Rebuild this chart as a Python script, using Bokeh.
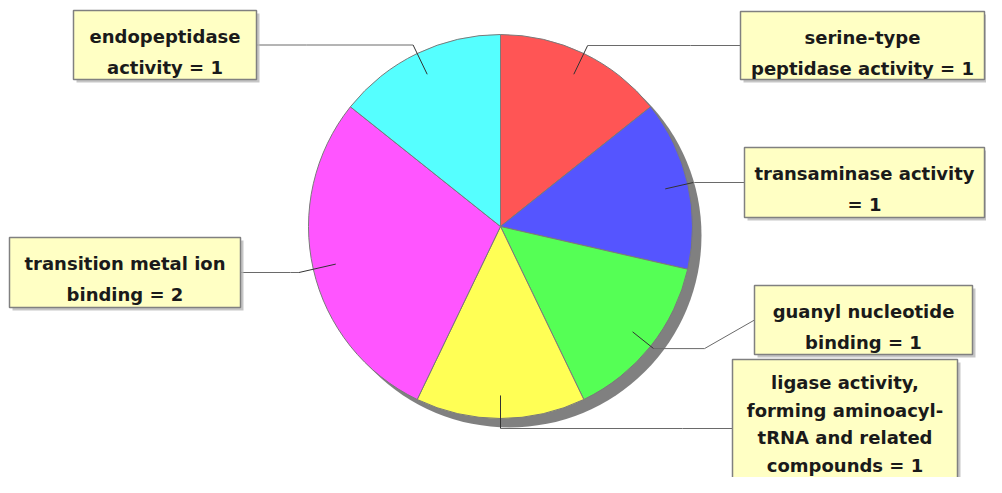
import numpy as np
from bokeh.plotting import figure
from bokeh.models import Range1d
from bokeh.core.properties import value
from bokeh.embed import file_html
from bokeh.resources import INLINE

# ---- data ----
categories = ["serine-type peptidase activity", "transaminase activity",
              "guanyl nucleotide binding",
              "ligase activity, forming aminoacyl-tRNA and related compounds",
              "transition metal ion binding", "endopeptidase activity"]
counts = [1, 1, 1, 1, 2, 1]
colors = ["#FF5555", "#5555FF", "#55FF55", "#FFFF55", "#FF55FF", "#55FFFF"]
label_lines = [["serine-type", "peptidase activity"],
               ["transaminase activity", ""],
               ["guanyl nucleotide", "binding"],
               ["ligase activity,", "forming aminoacyl-", "tRNA and related", "compounds"],
               ["transition metal ion", "binding"],
               ["endopeptidase", "activity"]]
# label boxes in picture pixels: left, top, right, bottom
boxes = [(740, 11, 984, 79), (744, 147, 984, 217), (754, 285, 972, 354),
         (732, 359, 957, 497), (9, 237, 240, 307), (73, 10, 256, 79)]
line_gap = [31.5, 31.5, 31.5, 27.5, 31.5, 31.5]
first_base = [25.5, 25.5, 25.5, 23.0, 25.5, 25.5]

# ---- layout ----
PH = 493
W, H = 986, 477
CX, CY, R = 500, 226, 192

def Y(sy):
    return PH - sy

p = figure(width=W, height=H, output_backend="svg", toolbar_location=None,
           x_range=Range1d(0, W), y_range=Range1d(PH - H, PH),
           min_border=0)
p.axis.visible = False
p.grid.visible = False
p.outline_line_color = None
p.background_fill_color = "white"
p.border_fill_color = "white"

total = sum(counts)
cum = np.concatenate([[0], np.cumsum(counts)]) / total * 2 * np.pi
starts = np.pi / 2 - cum[:-1]
ends = np.pi / 2 - cum[1:]

# pie shadow
p.circle(x=[CX + 9], y=[Y(CY + 9)], radius=R, fill_color="#808080",
         line_color=None)
p.wedge(x=[CX] * len(counts), y=[Y(CY)] * len(counts), radius=R,
        start_angle=list(starts), end_angle=list(ends), direction="clock",
        fill_color=colors, line_color="#7a7a7a", line_width=1)

# leaders
for i, (c, b) in enumerate(zip(counts, boxes)):
    theta = (cum[i] + cum[i + 1]) / 2  # clockwise from top
    sx, sy = np.sin(theta), -np.cos(theta)
    left, top, right, bottom = b
    mid = (top + bottom) / 2
    right_side = left > CX
    edge = left if right_side else right
    if abs(sy) > 1e-6:
        r = (mid - CY) / sy
    else:
        r = 1.04 * R
    r = min(max(r, 1.02 * R), 1.08 * R)
    ix, iy = CX + 0.88 * R * sx, CY + 0.88 * R * sy
    ex, ey = CX + r * sx, CY + r * sy
    kx = edge - 50 if right_side else edge + 50
    p.line([ix, ex], [Y(iy), Y(ey)], line_color="#333333", line_width=1)
    p.line([ex, kx, edge], [Y(ey), Y(ey), Y(mid)], line_color="#6a6a6a",
           line_width=1)

# label boxes
for i, (c, b) in enumerate(zip(counts, boxes)):
    left, top, right, bottom = b
    p.quad(left=[left + 3], right=[right + 3], top=[Y(top + 3)],
           bottom=[Y(bottom + 3)], fill_color="#b8b8b8", fill_alpha=0.8,
           line_color=None)
    p.quad(left=[left], right=[right], top=[Y(top)], bottom=[Y(bottom)],
           fill_color="#FFFFC4", line_color="#808080", line_width=1.5)
    lines = list(label_lines[i])
    last = lines[-1]
    lines[-1] = (last + " " if last else "") + f"= {c}"
    xs = [(left + right) / 2] * len(lines)
    ys = [Y(top + first_base[i] + line_gap[i] * k) for k in range(len(lines))]
    p.text(x=xs, y=ys, text=lines, text_align="center",
           text_baseline="alphabetic", text_font=value("DejaVu Sans"),
           text_font_style="bold", text_font_size="18px", text_color="#1a1a1a")

open("out.html", "w").write(file_html(p, INLINE))
